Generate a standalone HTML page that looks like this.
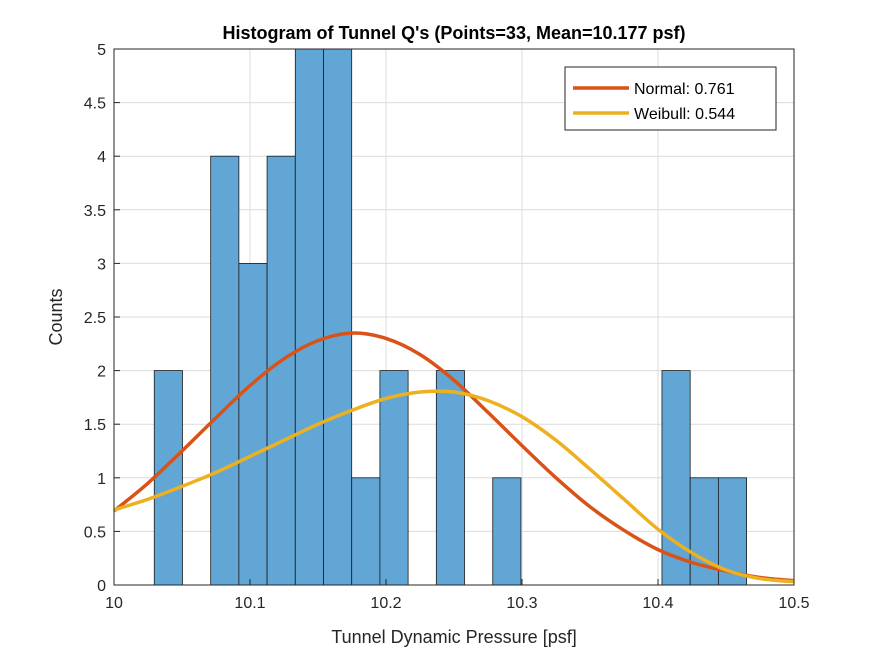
<!DOCTYPE html>
<html><head><meta charset="utf-8"><style>
body{margin:0;background:#fff;}
svg{font-family:"Liberation Sans",Arial,sans-serif;display:block}
</style></head><body>
<svg id="chart" width="875" height="656" viewBox="0 0 875 656">
<rect x="0" y="0" width="875" height="656" fill="#fff"/>
<rect x="114" y="49" width="680" height="536" fill="#fff"/>
<g id="grid"></g>
<g id="bars"></g>
<g id="curves"></g>
<rect x="114" y="49" width="680" height="536" fill="none" stroke="#262626" stroke-width="1"/>
<g id="ticks"></g>
<text x="454" y="39" text-anchor="middle" font-size="18" font-weight="bold" fill="#000">Histogram of Tunnel Q's (Points=33, Mean=10.177 psf)</text>
<text x="454" y="643" text-anchor="middle" font-size="18" fill="#262626">Tunnel Dynamic Pressure [psf]</text>
<text x="62" y="317" text-anchor="middle" font-size="18" fill="#262626" transform="rotate(-90 62 317)">Counts</text>
<g>
<rect x="565" y="67" width="211" height="63" fill="#fff" stroke="#262626" stroke-width="1"/>
<line x1="573" y1="88" x2="629" y2="88" stroke="#D95319" stroke-width="3.5"/>
<text x="634" y="94" font-size="16" fill="#000">Normal: 0.761</text>
<line x1="573" y1="113" x2="629" y2="113" stroke="#EDB120" stroke-width="3.5"/>
<text x="634" y="119" font-size="16" fill="#000">Weibull: 0.544</text>
</g>
</svg>
<script>
const binStart = 10.0296;
const binWidth = 0.02074;
const counts = [2,0,4,3,4,5,5,1,2,0,2,0,1,0,0,0,0,0,2,1,1];
const xTicks = [10,10.1,10.2,10.3,10.4,10.5];
const xTickLabels = ["10","10.1","10.2","10.3","10.4","10.5"];
const yTicks = [0,0.5,1,1.5,2,2.5,3,3.5,4,4.5,5];
const yTickLabels = ["0","0.5","1","1.5","2","2.5","3","3.5","4","4.5","5"];
const curveX = [10.0,10.025,10.05,10.075,10.1,10.125,10.15,10.175,10.2,10.225,10.25,10.275,10.3,10.325,10.35,10.375,10.4,10.425,10.45,10.475,10.5];
const normalY = [0.69,0.95,1.25,1.56,1.86,2.11,2.28,2.35,2.30,2.15,1.91,1.61,1.30,1.00,0.73,0.51,0.33,0.21,0.13,0.07,0.04];
const weibullY = [0.7,0.8,0.92,1.05,1.2,1.35,1.5,1.63,1.74,1.8,1.8,1.72,1.57,1.35,1.08,0.8,0.52,0.3,0.14,0.06,0.03];

const NS="http://www.w3.org/2000/svg";
const X0=114,X1=794,Y0=585,Y1=49;
const xs=v=>X0+(v-10)/(0.5)*(X1-X0);
const ys=v=>Y0-(v/5)*(Y0-Y1);
function mk(tag,attrs,parent){const e=document.createElementNS(NS,tag);for(const k in attrs)e.setAttribute(k,attrs[k]);parent.appendChild(e);return e;}
const grid=document.getElementById('grid'),bars=document.getElementById('bars'),curves=document.getElementById('curves'),ticks=document.getElementById('ticks');
xTicks.forEach((t,i)=>{
  const g=mk('line',{x1:xs(t),x2:xs(t),y1:Y1,y2:Y0,stroke:'#dcdcdc','stroke-width':1},grid);
  
  
  const tk=mk('line',{x1:xs(t),x2:xs(t),y1:Y0,y2:Y0-6,stroke:'#262626'},ticks);
  
  
  const tx=mk('text',{x:xs(t),y:Y0+23,'text-anchor':'middle','font-size':16,fill:'#262626'},ticks);
  tx.textContent=xTickLabels[i];
  
  
});
yTicks.forEach((t,i)=>{
  const g=mk('line',{x1:X0,x2:X1,y1:ys(t),y2:ys(t),stroke:'#dcdcdc','stroke-width':1},grid);
  
  
  const tk=mk('line',{x1:X0,x2:X0+6,y1:ys(t),y2:ys(t),stroke:'#262626'},ticks);
  
  
  const tx=mk('text',{x:X0-8,y:ys(t)+6,'text-anchor':'end','font-size':16,fill:'#262626'},ticks);
  tx.textContent=yTickLabels[i];
  
  
});
counts.forEach((c,i)=>{
  if(c<=0)return;
  const a=xs(binStart+i*binWidth),b=xs(binStart+(i+1)*binWidth);
  const r=mk('rect',{x:a,y:ys(c),width:b-a,height:Y0-ys(c),fill:'#62a6d6',stroke:'#1a1a1a','stroke-width':0.8},bars);
  
  
});
function smooth(xv,yv){
  const p=xv.map((x,i)=>[xs(x),ys(yv[i])]);
  let d=`M${p[0][0]},${p[0][1]}`;
  for(let i=0;i<p.length-1;i++){
    const p0=p[Math.max(0,i-1)],p1=p[i],p2=p[i+1],p3=p[Math.min(p.length-1,i+2)];
    d+=` C${p1[0]+(p2[0]-p0[0])/6},${p1[1]+(p2[1]-p0[1])/6} ${p2[0]-(p3[0]-p1[0])/6},${p2[1]-(p3[1]-p1[1])/6} ${p2[0]},${p2[1]}`;
  }
  return d;
}
const n=mk('path',{d:smooth(curveX,normalY),fill:'none',stroke:'#D95319','stroke-width':3.5},curves);


const w=mk('path',{d:smooth(curveX,weibullY),fill:'none',stroke:'#EDB120','stroke-width':3.5},curves);


</script>
</body></html>
